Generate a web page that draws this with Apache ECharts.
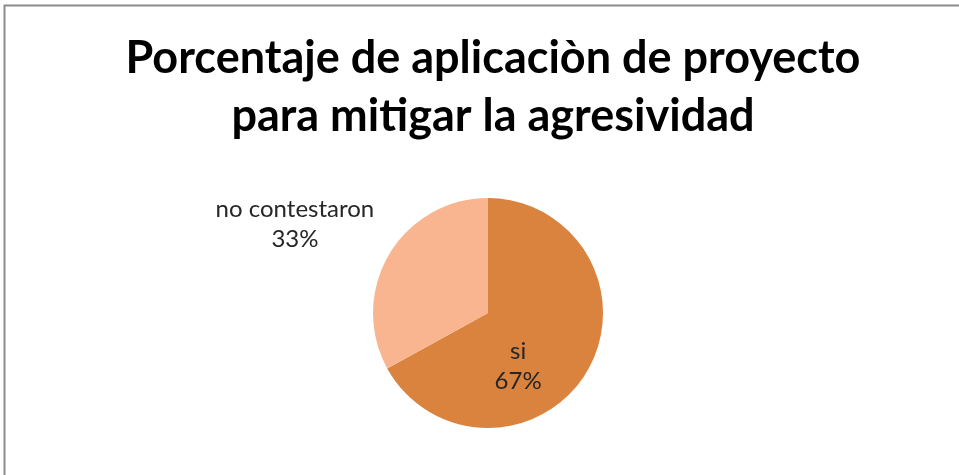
<!DOCTYPE html>
<html><head><meta charset="utf-8">
<script src="https://cdn.jsdelivr.net/npm/echarts@6/dist/echarts.min.js"></script>
<style>html,body{margin:0;padding:0;background:#fff}#c{width:959px;height:475px}</style>
</head><body><div id="c"></div>
<script>
const categories = ['si', 'no contestaron'];
const values = [67, 33];
const colors = ['#DA833F', '#F8B590'];
const labelOffsets = [[-22, 22], [-141, -58]];

const chart = echarts.init(document.getElementById('c'));
chart.setOption({
  animation: false,
  backgroundColor: '#fff',
  graphic: [{
    type: 'rect', shape: {x: 4.5, y: 5.5, width: 1000, height: 1000},
    style: {fill: 'none', stroke: '#8c8c8c', lineWidth: 2}
  }],
  title: {
    text: 'Porcentaje de aplicaciòn de proyecto\npara mitigar la agresividad',
    left: 488, textAlign: 'center', top: 24,
    textStyle: {fontFamily: 'Lato', fontWeight: 'bold', fontSize: 45, lineHeight: 58, color: '#000'}
  },
  series: [{
    type: 'pie',
    center: [488, 313],
    radius: 115,
    startAngle: 90,
    clockwise: true,
    silent: true,
    labelLine: {show: false},
    data: categories.map((c, i) => ({
      name: c, value: values[i],
      itemStyle: {color: colors[i]},
      label: {offset: labelOffsets[i]}
    })),
    label: {
      show: true, position: 'inside',
      formatter: p => p.name + '\n' + Math.round(p.percent) + '%',
      fontFamily: 'Lato', fontSize: 24, lineHeight: 30, color: '#262626'
    }
  }]
});
</script></body></html>
